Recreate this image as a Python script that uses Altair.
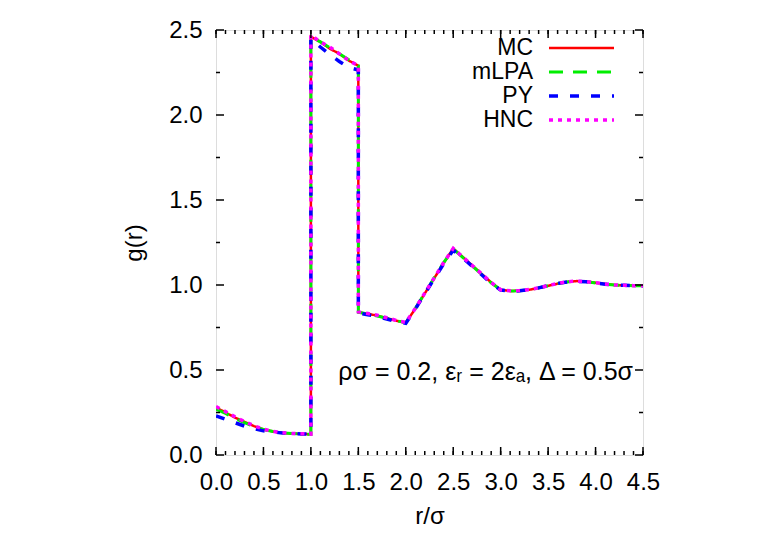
import altair as alt
import pandas as pd

# shared r grid (duplicates at the discontinuities 1.0 and 1.5)
r = [0.0, 0.1, 0.2, 0.3, 0.4, 0.5, 0.6, 0.7, 0.8, 0.9, 1.0,
     1.0, 1.1, 1.2, 1.3, 1.4, 1.5,
     1.5, 1.6, 1.7, 1.8, 1.9, 2.0,
     2.1, 2.2, 2.3, 2.4, 2.5,
     2.6, 2.7, 2.8, 2.9, 3.0,
     3.1, 3.2, 3.3, 3.4, 3.5, 3.6, 3.7, 3.8, 3.9, 4.0, 4.1, 4.2, 4.3, 4.4, 4.5]

g_mc = [0.28, 0.25, 0.22, 0.195, 0.17, 0.15, 0.138, 0.13, 0.126, 0.124, 0.122,
        2.46, 2.43, 2.39, 2.36, 2.32, 2.29,
        0.84, 0.83, 0.82, 0.805, 0.79, 0.778,
        0.86, 0.95, 1.04, 1.13, 1.215,
        1.165, 1.115, 1.065, 1.015, 0.972,
        0.965, 0.966, 0.972, 0.982, 0.995, 1.008, 1.018, 1.023, 1.02, 1.013, 1.006, 1.0, 0.998, 0.996, 0.996]

g_mlpa = [0.27, 0.245, 0.215, 0.19, 0.168, 0.15, 0.138, 0.13, 0.126, 0.124, 0.122,
          2.46, 2.43, 2.395, 2.36, 2.325, 2.29,
          0.84, 0.83, 0.818, 0.804, 0.79, 0.778,
          0.862, 0.952, 1.042, 1.132, 1.212,
          1.163, 1.113, 1.063, 1.013, 0.971,
          0.965, 0.966, 0.972, 0.983, 0.996, 1.009, 1.018, 1.022, 1.02, 1.012, 1.005, 1.0, 0.998, 0.996, 0.996]

g_py = [0.23, 0.21, 0.19, 0.17, 0.155, 0.142, 0.135, 0.13, 0.126, 0.124, 0.122,
        2.45, 2.40, 2.355, 2.315, 2.28, 2.265,
        0.835, 0.825, 0.815, 0.80, 0.785, 0.775,
        0.858, 0.948, 1.038, 1.125, 1.205,
        1.16, 1.11, 1.06, 1.01, 0.97,
        0.964, 0.966, 0.972, 0.983, 0.996, 1.009, 1.018, 1.022, 1.019, 1.012, 1.005, 1.0, 0.998, 0.996, 0.996]

g_hnc = [0.285, 0.255, 0.225, 0.197, 0.172, 0.152, 0.139, 0.131, 0.127, 0.125, 0.123,
         2.47, 2.43, 2.40, 2.36, 2.32, 2.29,
         0.842, 0.832, 0.822, 0.807, 0.792, 0.78,
         0.862, 0.952, 1.042, 1.132, 1.215,
         1.165, 1.115, 1.065, 1.015, 0.972,
         0.966, 0.967, 0.973, 0.983, 0.996, 1.009, 1.019, 1.023, 1.02, 1.013, 1.006, 1.0, 0.998, 0.996, 0.996]

series_names = ["MC", "mLPA", "PY", "HNC"]
series_values = [g_mc, g_mlpa, g_py, g_hnc]
series_colors = ["#ff0000", "#00ee00", "#0000ff", "#ff00ff"]
series_dash = [[1, 0], [14, 10], [9, 12], [4, 5]]
series_width = [2.5, 3, 3.5, 3.5]

x_major = [0.0, 0.5, 1.0, 1.5, 2.0, 2.5, 3.0, 3.5, 4.0, 4.5]
x_minor = [round(i * 0.1, 1) for i in range(46)]
y_major = [0.0, 0.5, 1.0, 1.5, 2.0, 2.5]
y_minor = [0.25, 0.75, 1.25, 1.75, 2.25]

W, H = 427, 425
FONT = "Liberation Sans"

xscale = alt.Scale(domain=[0, 4.5], nice=False, zero=False)
yscale = alt.Scale(domain=[0, 2.5], nice=False, zero=False)

xaxis = alt.Axis(values=x_major, format=".1f", ticks=False, domain=False, grid=False,
                 labelFontSize=24, labelFont=FONT, labelPadding=15, labelColor="black",
                 title="r/σ", titleFontSize=24, titleFont=FONT, titleFontWeight="normal",
                 titlePadding=10, titleColor="black", labelFlush=False)
yaxis = alt.Axis(values=y_major, format=".1f", ticks=False, domain=False, grid=False,
                 labelFontSize=24, labelFont=FONT, labelPadding=14, labelColor="black",
                 title="g(r)", titleFontSize=24, titleFont=FONT, titleFontWeight="normal",
                 titlePadding=22, titleColor="black", labelFlush=False)

X = alt.X("r:Q", scale=xscale, axis=xaxis)
Y = alt.Y("g:Q", scale=yscale, axis=yaxis)

layers = []
for i, (name, vals) in enumerate(zip(series_names, series_values)):
    df = pd.DataFrame({"r": r, "g": vals, "idx": list(range(len(r)))})
    ln = alt.Chart(df).mark_line(
        color=series_colors[i], strokeDash=series_dash[i], strokeWidth=series_width[i], clip=True
    ).encode(x=X, y=Y, order="idx:Q")
    layers.append(ln)

# inward ticks
def xticks(vals, length):
    d = pd.DataFrame({"r": vals})
    bottom = alt.Chart(d).mark_rule(color="black", strokeWidth=1.5).encode(
        x=X, y=alt.value(H), y2=alt.value(H - length))
    top = alt.Chart(d).mark_rule(color="black", strokeWidth=1.5).encode(
        x=X, y=alt.value(0), y2=alt.value(length))
    return [bottom, top]

def yticks(vals, length):
    d = pd.DataFrame({"g": vals})
    left = alt.Chart(d).mark_rule(color="black", strokeWidth=1.5).encode(
        y=Y, x=alt.value(0), x2=alt.value(length))
    right = alt.Chart(d).mark_rule(color="black", strokeWidth=1.5).encode(
        y=Y, x=alt.value(W), x2=alt.value(W - length))
    return [left, right]

tick_layers = xticks(x_major, 8) + xticks(x_minor, 4) + yticks(y_major, 8) + yticks(y_minor, 4)

# legend (manual, labels to the left of the line samples)
legend_layers = []
leg_df = pd.DataFrame({"k": [0]})
for i, name in enumerate(series_names):
    ypos = 18 + i * 24
    legend_layers.append(alt.Chart(leg_df).mark_text(
        text=name, align="right", baseline="middle", fontSize=23, font=FONT, color="black"
    ).encode(x=alt.value(317), y=alt.value(ypos)))
    legend_layers.append(alt.Chart(leg_df).mark_rule(
        color=series_colors[i], strokeDash=series_dash[i], strokeWidth=series_width[i]
    ).encode(x=alt.value(333), x2=alt.value(398), y=alt.value(ypos)))

annot = alt.Chart(leg_df).mark_text(
    text="ρσ = 0.2, εᵣ = 2εₐ, Δ = 0.5σ", align="right", baseline="middle",
    fontSize=25, font=FONT, color="black"
).encode(x=alt.value(417), y=alt.value(342))

chart = alt.layer(*layers, *tick_layers, *legend_layers, annot).properties(
    width=W, height=H,
    autosize=alt.AutoSizeParams(type="none"),
    padding={"left": 208, "top": 22, "right": 100, "bottom": 78},
).configure_view(stroke="black", strokeWidth=2).configure(background="white")

chart.save("out.html", embed_options={"renderer": "svg", "actions": False})
